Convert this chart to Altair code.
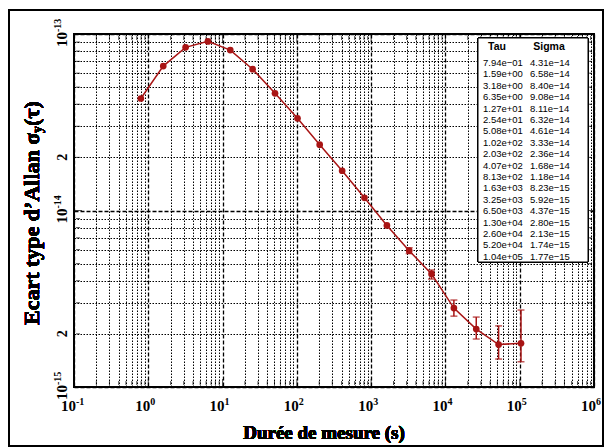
import altair as alt
import pandas as pd

# Allan deviation results
tau = [7.94e-01, 1.59e+00, 3.18e+00, 6.35e+00, 1.27e+01, 2.54e+01, 5.08e+01,
       1.02e+02, 2.03e+02, 4.07e+02, 8.13e+02, 1.63e+03, 3.25e+03, 6.50e+03,
       1.30e+04, 2.60e+04, 5.20e+04, 1.04e+05]
sigma = [4.31e-14, 6.58e-14, 8.40e-14, 9.08e-14, 8.11e-14, 6.32e-14, 4.61e-14,
         3.33e-14, 2.36e-14, 1.68e-14, 1.18e-14, 8.23e-15, 5.92e-15, 4.37e-15,
         2.80e-15, 2.13e-15, 1.74e-15, 1.77e-15]

# confidence intervals at long averaging times
err_tau = [3.25e+03, 6.50e+03, 1.30e+04, 2.60e+04, 5.20e+04, 1.04e+05]
err_lo = [5.70e-15, 4.09e-15, 2.52e-15, 1.87e-15, 1.44e-15, 1.39e-15]
err_hi = [6.15e-15, 4.60e-15, 3.11e-15, 2.49e-15, 2.22e-15, 2.73e-15]

# axis decades and the extra "2" labels on the sigma axis
x_decades = [-1, 0, 1, 2, 3, 4, 5, 6]
y_decades = [-15, -14, -13]
y_twos = [2e-15, 2e-14]

W, H = 520, 353
RED = "#a81414"
SERIF = "Liberation Serif"


def grid_values(decades):
    vals = []
    for k in decades[:-1]:
        for m in range(1, 10):
            vals.append(float(f"{m}e{k}"))
    vals.append(float(f"1e{decades[-1]}"))
    return vals


xgrid = grid_values(x_decades)
ygrid = grid_values(y_decades)

major_test = "abs(log(datum.value)/LN10 - round(log(datum.value)/LN10)) < 1e-6"
grid_dash = {"condition": {"test": major_test, "value": [4, 2]}, "value": [1.5, 1.5]}
grid_width = {"condition": {"test": major_test, "value": 1.3}, "value": 1}

axis_common = dict(grid=True, gridDash=grid_dash, gridWidth=grid_width, gridColor="black",
                   gridOpacity=1, ticks=False, domain=False, labels=False, title=None)
x_axis = alt.Axis(values=xgrid, **axis_common)
y_axis = alt.Axis(values=ygrid, **axis_common)
x_scale = alt.Scale(type="log", domain=[0.1, 1e6], nice=False)
y_scale = alt.Scale(type="log", domain=[1e-15, 1e-13], nice=False)


def X(field):
    return alt.X(f"{field}:Q", scale=x_scale, axis=x_axis)


def Y(field):
    return alt.Y(f"{field}:Q", scale=y_scale, axis=y_axis)


df = pd.DataFrame({"tau": tau, "sigma": sigma})
err = pd.DataFrame({"tau": err_tau, "lo": err_lo, "hi": err_hi})

line = alt.Chart(df).mark_line(color=RED, strokeWidth=1.5).encode(x=X("tau"), y=Y("sigma"))
points = alt.Chart(df).mark_circle(color=RED, size=45, opacity=1).encode(x=X("tau"), y=Y("sigma"))
bars = alt.Chart(err).mark_rule(color=RED, strokeWidth=1.5).encode(
    x=X("tau"), y=Y("lo"), y2="hi:Q")
caps_lo = alt.Chart(err).mark_tick(color=RED, thickness=1.5, size=7, orient="horizontal").encode(
    x=X("tau"), y=Y("lo"))
caps_hi = alt.Chart(err).mark_tick(color=RED, thickness=1.5, size=7, orient="horizontal").encode(
    x=X("tau"), y=Y("hi"))

# inward tick marks on the four sides of the frame
xt = pd.DataFrame({"v": xgrid})
xt["len"] = [8 if f"{v:e}".startswith("1.") else 4 for v in xgrid]
yt = pd.DataFrame({"v": ygrid})
yt["len"] = [8 if f"{v:e}".startswith("1.") else 4 for v in ygrid]
tick_layers = []
for yv in (H, 0):
    tick_layers.append(alt.Chart(xt).mark_tick(color="black", thickness=1, orient="vertical",
                                               yOffset=(-4 if yv == H else 4)).encode(
        x=X("v"), y=alt.value(yv), size=alt.Size("len:Q", scale=None, legend=None)))
for xv in (0, W):
    tick_layers.append(alt.Chart(yt).mark_tick(color="black", thickness=1, orient="horizontal",
                                               xOffset=(4 if xv == 0 else -4)).encode(
        y=Y("v"), x=alt.value(xv), size=alt.Size("len:Q", scale=None, legend=None)))

# tick labels: "10" with a raised exponent
lab_style = dict(font=SERIF, fontWeight="bold", color="black")
xl = pd.DataFrame({"v": [float(f"1e{k}") for k in x_decades], "e": [str(k) for k in x_decades]})
x_base = alt.Chart(xl).mark_text(text="10", fontSize=15, align="right", baseline="alphabetic",
                                 dx=2, **lab_style).encode(x=X("v"), y=alt.value(377))
x_exp = alt.Chart(xl).mark_text(fontSize=10, align="left", baseline="alphabetic",
                                dx=2, dy=-6, **lab_style).encode(
    x=X("v"), y=alt.value(377), text="e:N")
yl = pd.DataFrame({"v": [float(f"1e{k}") for k in y_decades], "e": [str(k) for k in y_decades]})
y_base = alt.Chart(yl).mark_text(text="10", fontSize=15, angle=270, align="right",
                                 baseline="alphabetic", dx=2, **lab_style).encode(
    y=Y("v"), x=alt.value(-7))
y_exp = alt.Chart(yl).mark_text(fontSize=10, angle=270, align="left", baseline="alphabetic",
                                dx=2, dy=-6, **lab_style).encode(
    y=Y("v"), x=alt.value(-7), text="e:N")
y_two = alt.Chart(pd.DataFrame({"v": y_twos})).mark_text(
    text="2", fontSize=14, angle=270, align="center", baseline="alphabetic", **lab_style).encode(
    y=Y("v"), x=alt.value(-7))

# results table
fmt = lambda v: f"{v:.2e}".replace("-", "−")
table = pd.DataFrame({"row": list(range(len(tau))),
                      "tau_txt": [fmt(v) for v in tau],
                      "sig_txt": [fmt(v) for v in sigma]})
box = alt.Chart(table).mark_rect(fill="white", stroke="black", strokeWidth=1).encode(
    x=alt.value(404), x2=alt.value(514), y=alt.value(4), y2=alt.value(228))
tab_base = alt.Chart(table).transform_calculate(py="29 + datum.row * 11.4")
tab_style = dict(align="left", baseline="middle", font="Liberation Sans", fontSize=9.5,
                 color="black")
tab_tau = tab_base.mark_text(**tab_style).encode(
    x=alt.value(409), y=alt.Y("py:Q", scale=None), text="tau_txt:N")
tab_sig = tab_base.mark_text(**tab_style).encode(
    x=alt.value(456), y=alt.Y("py:Q", scale=None), text="sig_txt:N")
head = alt.Chart(pd.DataFrame({"h": ["Tau", "Sigma"], "px": [423, 475]})).mark_text(
    align="center", baseline="middle", font="Liberation Sans", fontSize=10.5,
    fontWeight="bold", color="black").encode(
    x=alt.X("px:Q", scale=None), y=alt.value(13), text="h:N")

# outer frame
frame = alt.Chart(table).mark_rect(fill=None, stroke="black", strokeWidth=2).encode(
    x=alt.value(-65), x2=alt.value(529), y=alt.value(-24), y2=alt.value(412))

# axis titles
title_style = dict(font=SERIF, fontWeight="bold", color="black")
x_title = alt.Chart(table).mark_text(text="Durée de mesure (s)", fontSize=19,
                                     align="center", baseline="middle", **title_style).encode(
    x=alt.value(250), y=alt.value(399))
y_t1 = alt.Chart(table).mark_text(text="Ecart type d’Allan σ", fontSize=22, angle=270,
                                  align="left", baseline="middle", **title_style).encode(
    x=alt.value(-42), y=alt.value(291))
y_t2 = alt.Chart(table).mark_text(text="y", fontSize=14, angle=270,
                                  align="left", baseline="middle", **title_style).encode(
    x=alt.value(-36), y=alt.value(99))
y_t3 = alt.Chart(table).mark_text(text="(τ)", fontSize=22, angle=270,
                                  align="left", baseline="middle", **title_style).encode(
    x=alt.value(-42), y=alt.value(92))

chart = alt.layer(
    line, *tick_layers, box, head, tab_tau, tab_sig, points, bars, caps_lo, caps_hi,
    x_base, x_exp, y_base, y_exp, y_two,
    frame, x_title, y_t1, y_t2, y_t3
).properties(
    width=W, height=H,
    autosize=alt.AutoSizeParams(type="none"),
    padding={"left": 74, "top": 34, "right": 17, "bottom": 60},
    background="white",
).configure_view(stroke="black", strokeWidth=2)

chart.save("out.html", embed_options={"renderer": "svg", "actions": False})
